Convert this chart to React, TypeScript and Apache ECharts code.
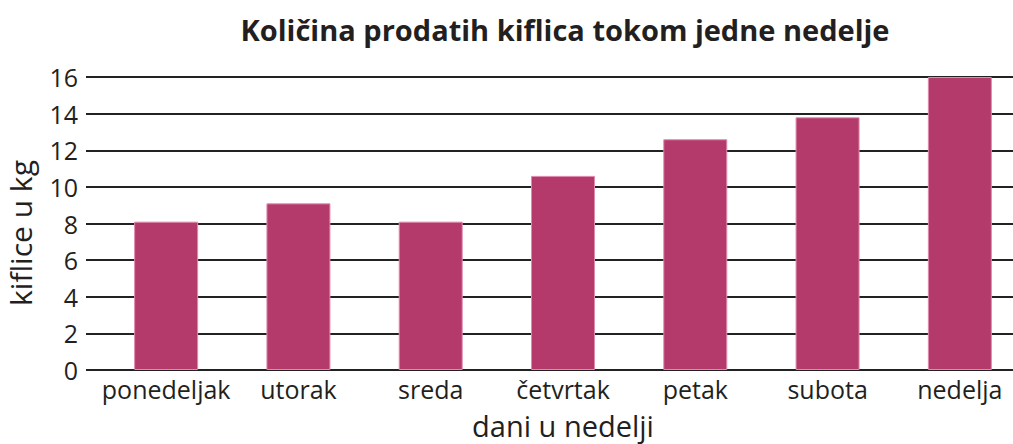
import React, { useEffect, useRef } from "react";
import * as echarts from "echarts";

const title = "Količina prodatih kiflica tokom jedne nedelje";
const days = ["ponedeljak", "utorak", "sreda", "četvrtak", "petak", "subota", "nedelja"];
const kilos = [8.1, 9.1, 8.1, 10.6, 12.6, 13.8, 16];
const yTicks = { min: 0, max: 16, interval: 2 };
const xName = "dani u nedelji";
const yName = "kiflice u kg";

const FONT = "'Open Sans', 'Noto Sans', sans-serif";
const INK = "#231f20";

export default function App() {
  const ref = useRef<HTMLDivElement>(null);
  useEffect(() => {
    if (!ref.current) return;
    const chart = echarts.init(ref.current, undefined, { renderer: "svg" });
    chart.setOption({
      animation: false,
      backgroundColor: "#ffffff",
      title: {
        text: title,
        left: 560,
        top: 10,
        textAlign: "center",
        textStyle: { fontFamily: FONT, fontWeight: "bold", fontSize: 29, color: INK },
      },
      graphic: [
        {
          type: "text",
          x: 20,
          y: 233,
          rotation: Math.PI / 2,
          style: {
            text: yName,
            fontFamily: FONT,
            fontSize: 30,
            fill: INK,
            textAlign: "center",
            textVerticalAlign: "middle",
          },
        },
      ],
      grid: [
        { left: 86, right: 0, top: 77, bottom: 74, outerBoundsMode: "none", containLabel: false },
        { left: 100, width: 926, top: 77, bottom: 74, outerBoundsMode: "none", containLabel: false },
      ],
      xAxis: [
        {
          gridIndex: 0,
          type: "category",
          data: days,
          show: false,
        },
        {
          gridIndex: 1,
          type: "category",
          data: days,
          axisLine: { show: false },
          axisTick: { show: false },
          axisLabel: { interval: 0, fontFamily: FONT, fontSize: 25, color: INK, margin: 6 },
          name: xName,
          nameLocation: "middle",
          nameGap: 40,
          nameTextStyle: { fontFamily: FONT, fontSize: 29, lineHeight: 30, color: INK },
        },
      ],
      yAxis: [
        {
          gridIndex: 0,
          type: "value",
          min: yTicks.min,
          max: yTicks.max,
          interval: yTicks.interval,
          axisLine: { show: false },
          axisTick: { show: false },
          axisLabel: { fontFamily: FONT, fontSize: 25, color: INK, margin: 8 },
          splitLine: { lineStyle: { color: "#222222", width: 2 } },
        },
        {
          gridIndex: 1,
          type: "value",
          min: yTicks.min,
          max: yTicks.max,
          interval: yTicks.interval,
          show: false,
          splitLine: { show: false },
        },
      ],
      series: [
        {
          type: "bar",
          xAxisIndex: 1,
          yAxisIndex: 1,
          data: kilos,
          barWidth: 64,
          itemStyle: { color: "#b33a6b", borderColor: "#e08aad", borderWidth: 1 },
          z: 3,
        },
      ],
    });
    return () => chart.dispose();
  }, []);
  return (
    <div
      ref={ref}
      style={{ position: "absolute", left: 0, top: 0, width: 1013, height: 444 }}
    />
  );
}
